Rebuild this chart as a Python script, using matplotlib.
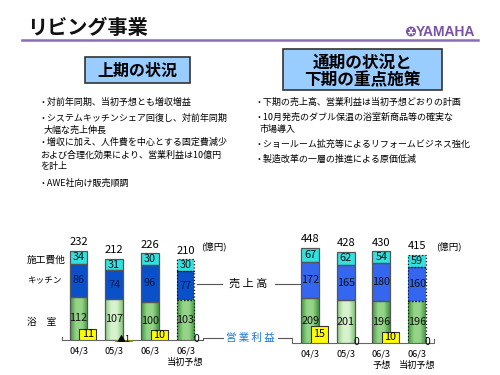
import numpy as np
import matplotlib
matplotlib.use("Agg")
import matplotlib.pyplot as plt
from matplotlib.patches import Rectangle, Circle
from matplotlib.colors import LinearSegmentedColormap

plt.rcParams['font.family'] = ['Noto Sans CJK JP', 'DejaVu Sans']

# ---- data ----
left_cats = ['04/3', '05/3', '06/3', '06/3\n当初予想']
left_bath = [112, 107, 100, 103]
left_kitchen = [86, 74, 96, 77]
left_other = [34, 31, 30, 30]
left_total = [232, 212, 226, 210]
left_profit = [11, -1, 10, 0]

right_cats = ['04/3', '05/3', '06/3\n予想', '06/3\n当初予想']
right_bath = [209, 201, 196, 196]
right_kitchen = [172, 165, 180, 160]
right_other = [67, 62, 54, 59]
right_total = [448, 428, 430, 415]
right_profit = [15, 0, 10, 0]

left_bullets = [
    (38, 102, "・対前年同期、当初予想とも増収増益"),
    (38, 118, "・システムキッチンシェア回復し、対前年同期"),
    (44, 130, "大幅な売上伸長"),
    (38, 142, "・増収に加え、人件費を中心とする固定費減少"),
    (40, 155, "および合理化効果により、営業利益は10億円"),
    (40, 167, "を計上"),
    (38, 183, "・AWE社向け販売順調"),
]
right_bullets = [
    (255, 102, "・下期の売上高、営業利益は当初予想どおりの計画"),
    (255, 117, "・10月発売のダブル保温の浴室新商品等の確実な"),
    (259, 129, "市場導入"),
    (255, 144, "・ショールーム拡充等によるリフォームビジネス強化"),
    (255, 159, "・製造改革の一層の推進による原価低減"),
]

W, H = 500, 375
fig = plt.figure(figsize=(5, 3.75), dpi=100)
fig.patch.set_facecolor('white')

bg = fig.add_axes([0, 0, 1, 1])
bg.set_xlim(0, W)
bg.set_ylim(H, 0)
bg.axis('off')

purple = '#7b52a6'
# title + logo
bg.text(27, 28, "リビング事業", fontsize=14.5, fontweight='bold', va='center', ha='left',
        color='#111111')
bg.plot([22, 478], [40, 40], color='#8a6cb8', lw=1.8)
bg.add_patch(Circle((411, 31.5), 4.3, color=purple))
for ang in (0, 60, 120):
    a = np.radians(ang)
    bg.plot([411 - 3.2 * np.cos(a), 411 + 3.2 * np.cos(a)],
            [31.5 - 3.2 * np.sin(a), 31.5 + 3.2 * np.sin(a)], color='white', lw=0.8)
bg.text(416, 32, "YAMAHA", fontsize=10, fontweight='bold', color=purple,
        family=['Liberation Sans', 'DejaVu Sans'], va='center', ha='left')

# header boxes
bg.add_patch(Rectangle((85, 57), 105, 26, facecolor='#99ccff', edgecolor='#333333', lw=1.2))
bg.text(137.5, 70.5, "上期の状況", fontsize=11.5, fontweight='bold', ha='center', va='center')
bg.add_patch(Rectangle((283, 49), 159, 41, facecolor='#99ccff', edgecolor='#333333', lw=1.2))
bg.text(362.5, 63, "通期の状況と", fontsize=12, fontweight='bold', ha='center', va='center')
bg.text(362.5, 80, "下期の重点施策", fontsize=12, fontweight='bold', ha='center', va='center')

for x, y, s in left_bullets + right_bullets:
    bg.text(x, y, s, fontsize=6.5, ha='left', va='center')

# side labels of the chart
bg.text(27, 260, "施工費他", fontsize=7, ha='left', va='center')
bg.text(27, 281, "キッチン", fontsize=6.2, ha='left', va='center')
bg.text(27, 322, "浴　室", fontsize=7, ha='left', va='center')
bg.text(214, 246, "(億円)", fontsize=6.8, ha='center', va='center')
bg.text(449, 246, "(億円)", fontsize=6.8, ha='center', va='center')

# leader lines
bg.plot([197, 222], [284, 284], color='#555555', lw=0.8)
bg.plot([275, 300], [284, 284], color='#555555', lw=0.8)
bg.text(248.5, 284, "売 上 高", fontsize=8, ha='center', va='center')
bg.plot([199, 203, 203, 223], [340, 340, 338, 338], color='#555555', lw=0.8)
bg.plot([278, 292], [338, 338], color='#555555', lw=0.8)
bg.text(250.5, 338, "営 業 利 益", fontsize=7.5, ha='center', va='center', color='#1e78d2')

# baselines
bg.plot([62, 62, 199], [337, 340, 340], color='#666666', lw=0.8)
bg.plot([292, 292, 434, 434], [338, 343, 343, 339], color='#666666', lw=0.8)


def px_rect(x0, x1, ytop, ybot):
    return [x0 / W, (H - ybot) / H, (x1 - x0) / W, (ybot - ytop) / H]


def grad_cmap(edge, mid):
    return LinearSegmentedColormap.from_list('g', [edge, mid, mid, edge])


def draw_chart(rect, xlim, ymax, pmax, cats, bath, kitchen, other, total, profit,
               blue, num_color_blue):
    ax = fig.add_axes(rect)
    ax.set_xlim(*xlim)
    ax.set_ylim(0, ymax)
    x = np.arange(len(cats))
    w = 0.5
    b1 = ax.bar(x, bath, w, color='#5cb85c', edgecolor='none', zorder=2)
    ax.bar(x, kitchen, w, bottom=bath, color=blue, edgecolor='none', zorder=2)
    ax.bar(x, other, w, bottom=np.add(bath, kitchen), color='#33e0e0',
           edgecolor='none', zorder=2)
    # gradient on the green part
    gx = np.linspace(0, 1, 64)[None, :]
    for i, p in enumerate(b1):
        if i == 1:
            cm = grad_cmap('#86c67e', '#d6f2cc')
        else:
            cm = grad_cmap('#3f963f', '#95d488')
        x0, y0 = p.get_xy()
        im = ax.imshow(gx, extent=[x0, x0 + p.get_width(), y0, y0 + p.get_height()],
                       cmap=cm, aspect='auto', zorder=2.2, interpolation='bilinear')
        im.set_clip_path(p)
    ax.set_xlim(*xlim)
    ax.set_ylim(0, ymax)
    # outlines
    for i in range(len(cats)):
        ls = ':' if i == len(cats) - 1 else '-'
        ec = '#111111' if i == len(cats) - 1 else '#555555'
        for bot, h in ((0, bath[i]), (bath[i], kitchen[i]), (bath[i] + kitchen[i], other[i])):
            ax.bar(x[i], h, w, bottom=bot, fill=False, edgecolor=ec, lw=0.9,
                   linestyle=ls, zorder=3)
    # segment labels
    for i in range(len(cats)):
        ax.text(x[i], bath[i] / 2, str(bath[i]), ha='center', va='center', fontsize=7.8,
                color='#111111', zorder=4)
        ax.text(x[i], bath[i] + kitchen[i] / 2, str(kitchen[i]), ha='center', va='center',
                fontsize=7.8, color=num_color_blue, zorder=4)
        ax.text(x[i], bath[i] + kitchen[i] + other[i] / 2, str(other[i]), ha='center',
                va='center', fontsize=7.8, color='#111111', zorder=4)
        ax.annotate(str(total[i]), (x[i], total[i]), xytext=(0, 2.5),
                    textcoords='offset points', ha='center', va='bottom', fontsize=8,
                    annotation_clip=False)
    ax.set_xticks(x)
    ax.set_xticklabels(cats, fontsize=6.6, linespacing=1.3)
    ax.tick_params(axis='x', length=0, pad=5)
    ax.set_yticks([])
    for s in ax.spines.values():
        s.set_visible(False)
    ax.patch.set_visible(False)

    # operating profit on its own scale
    tw = ax.twinx()
    tw.set_ylim(0, pmax)
    tw.set_yticks([])
    for s in tw.spines.values():
        s.set_visible(False)
    off = 0.26
    for i, v in enumerate(profit):
        if v > 0:
            tw.bar(x[i] + off, v, 0.48, color='#ffff00', edgecolor='#333333', lw=0.8,
                   zorder=5)
            tw.text(x[i] + off, v / 2, str(v), ha='center', va='center', fontsize=7.8,
                    zorder=6)
        elif v < 0:
            tw.bar(x[i] + off, v, 0.47, color='#dddd00', edgecolor='#888800', lw=0.6,
                   zorder=5, clip_on=False)
            tw.text(x[i] + off, 0.5, "▲" + str(-v), ha='center', va='center',
                    fontsize=6.5, zorder=6, clip_on=False)
        else:
            tw.text(x[i] + off + 0.05, 0.5, "0", ha='center', va='center', fontsize=7.5,
                    zorder=6, clip_on=False)
    return ax


draw_chart(px_rect(62, 205, 240, 340), (-0.463, 3.546), 100 / 0.384, 97,
           left_cats, left_bath, left_kitchen, left_other, left_total, left_profit,
           '#0a50c8', '#0a1a50')
draw_chart(px_rect(292, 435, 243, 343), (-0.515, 3.513), 100 / 0.213, 88,
           right_cats, right_bath, right_kitchen, right_other, right_total, right_profit,
           '#3466f0', '#111111')

fig.savefig('out.png', dpi=100, facecolor='white')
